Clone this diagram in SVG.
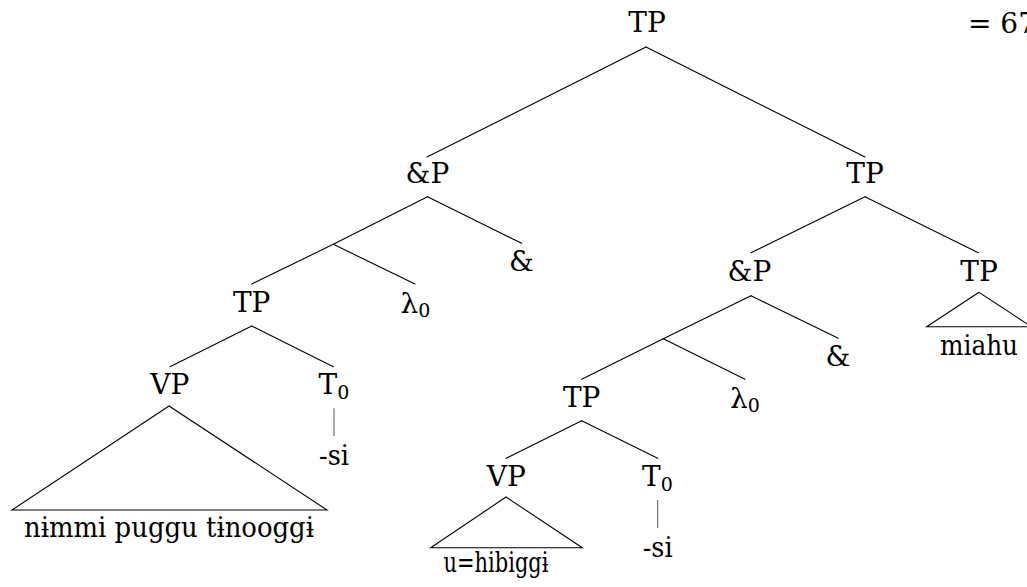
<svg xmlns="http://www.w3.org/2000/svg" width="1027" height="587" viewBox="0 0 1027 587">
<style>
  text { font-family: 'DejaVu Serif', 'Liberation Serif', serif; font-size: 28px; fill: #000; text-anchor: middle; }
  .sub { font-size: 19px; }
  .edge { stroke: #000; stroke-width: 1.1; fill: none; stroke-linecap: round; }
  .bar { stroke: #555; stroke-width: 1; }
</style>
<rect width="1027" height="587" fill="#fff"/>
<g id="connectors">
  <line class="edge" x1="646" y1="47" x2="427" y2="157"/>
  <line class="edge" x1="646" y1="47" x2="865" y2="157"/>
  <line class="edge" x1="427.5" y1="196.7" x2="333.3" y2="244.3"/>
  <line class="edge" x1="427.5" y1="196.7" x2="521.7" y2="243.3"/>
  <line class="edge" x1="333.3" y1="244.3" x2="251.7" y2="284"/>
  <line class="edge" x1="333.3" y1="244.3" x2="415" y2="284"/>
  <line class="edge" x1="251.7" y1="326" x2="170" y2="366.7"/>
  <line class="edge" x1="251.7" y1="326" x2="333.3" y2="366.7"/>
  <line class="bar" x1="334" y1="408.3" x2="334" y2="436"/>
  <polygon class="edge" points="169,406 12,510 327,510"/>
  <line class="edge" x1="865" y1="196.7" x2="751" y2="252.7"/>
  <line class="edge" x1="865" y1="196.7" x2="978.3" y2="252.7"/>
  <line class="edge" x1="751" y1="295.7" x2="663.3" y2="338.8"/>
  <line class="edge" x1="751" y1="295.7" x2="838.3" y2="338.3"/>
  <polygon class="edge" points="979,292.3 926.7,326.7 1031.3,326.7"/>
  <line class="edge" x1="663.3" y1="338.8" x2="581.7" y2="379.3"/>
  <line class="edge" x1="663.3" y1="338.8" x2="745" y2="379.3"/>
  <line class="edge" x1="581.7" y1="420.7" x2="506" y2="458.3"/>
  <line class="edge" x1="581.7" y1="420.7" x2="657.7" y2="458.3"/>
  <line class="bar" x1="657.7" y1="500" x2="657.7" y2="528"/>
  <polygon class="edge" points="506,497 430.7,547.7 582.3,547.7"/>
</g>
<g id="root"><text x="647" y="32">TP</text></g>
<g id="eq"><text x="968" y="33" style="text-anchor:start">= 67</text></g>
<g id="andP1"><text x="427.5" y="183">&amp;P</text></g>
<g id="amp1"><text x="521.5" y="271">&amp;</text></g>
<g id="tp1"><text x="251.7" y="312">TP</text></g>
<g id="lambda1"><text x="415.5" y="313">λ<tspan class="sub" dy="4">0</tspan></text></g>
<g id="vp1"><text x="169.7" y="394">VP</text></g>
<g id="t01"><text x="334" y="394">T<tspan class="sub" dy="5">0</tspan></text></g>
<g id="si1"><text x="334" y="465" textLength="30" lengthAdjust="spacingAndGlyphs">-si</text></g>
<g id="leaf1"><text x="169" y="537" textLength="290" lengthAdjust="spacingAndGlyphs">nɨmmi puggu tɨnooggɨ</text></g>
<g id="tp2"><text x="865" y="183">TP</text></g>
<g id="andP2"><text x="749.5" y="281">&amp;P</text></g>
<g id="amp2"><text x="838" y="366">&amp;</text></g>
<g id="tp4"><text x="979" y="281">TP</text></g>
<g id="leaf3"><text x="979" y="355" textLength="78" lengthAdjust="spacingAndGlyphs">miahu</text></g>
<g id="tp5"><text x="581.7" y="406.5">TP</text></g>
<g id="lambda2"><text x="745" y="408">λ<tspan class="sub" dy="4">0</tspan></text></g>
<g id="vp2"><text x="506.3" y="485.5">VP</text></g>
<g id="t02"><text x="657.5" y="485.5">T<tspan class="sub" dy="5">0</tspan></text></g>
<g id="si2"><text x="657.7" y="557" textLength="30" lengthAdjust="spacingAndGlyphs">-si</text></g>
<g id="leaf2"><text x="496" y="572" textLength="105" lengthAdjust="spacingAndGlyphs">u=hibiggɨ</text></g>
</svg>
